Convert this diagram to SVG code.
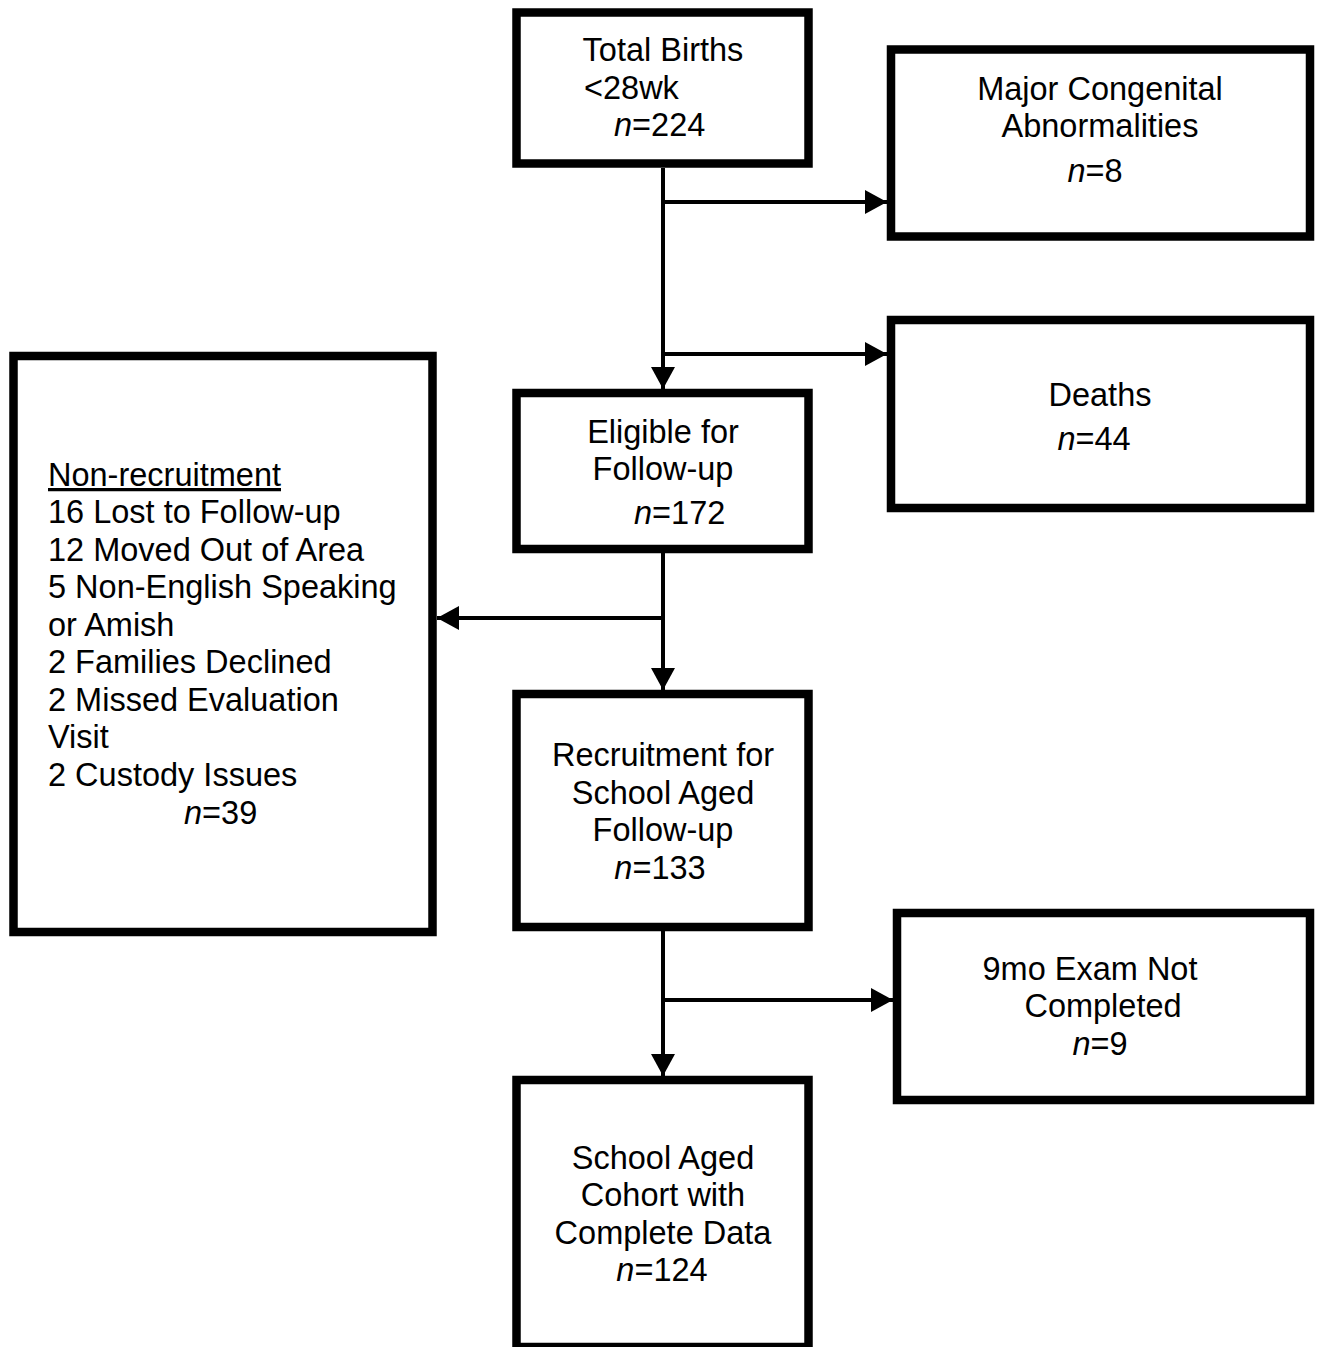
<svg xmlns="http://www.w3.org/2000/svg" width="1320" height="1347" viewBox="0 0 1320 1347">
<style>
.box{fill:#fff;stroke:#000;stroke-width:8.5}
.t{font-family:"Liberation Sans",Arial,sans-serif;font-size:32.5px;fill:#000}
.c{text-anchor:middle}
.i{font-style:italic}
.ln{stroke:#000;stroke-width:4;fill:none}
</style>
<defs>
<marker id="ah" markerWidth="22" markerHeight="24" refX="22" refY="12" orient="auto" markerUnits="userSpaceOnUse">
<path d="M0,0 L22,12 L0,24 Z" fill="#000"/>
</marker>
</defs>
<rect width="1320" height="1347" fill="#fff"/>
<g id="connectors">
<line class="ln" x1="663" y1="168" x2="663" y2="389" marker-end="url(#ah)"/>
<line class="ln" x1="663" y1="202" x2="887" y2="202" marker-end="url(#ah)"/>
<line class="ln" x1="663" y1="354" x2="887" y2="354" marker-end="url(#ah)"/>
<line class="ln" x1="663" y1="553" x2="663" y2="690" marker-end="url(#ah)"/>
<line class="ln" x1="663" y1="618" x2="437" y2="618" marker-end="url(#ah)"/>
<line class="ln" x1="663" y1="931" x2="663" y2="1076" marker-end="url(#ah)"/>
<line class="ln" x1="663" y1="1000" x2="893" y2="1000" marker-end="url(#ah)"/>
</g>
<g id="total-births">
<rect class="box" x="516.5" y="12.5" width="292" height="151"/>
<text class="t c" x="663" y="61">Total Births</text>
<text class="t" x="584" y="99">&lt;28wk</text>
<text class="t" x="614" y="136"><tspan class="i">n</tspan>=224</text>
</g>
<g id="congenital">
<rect class="box" x="891" y="49.5" width="419" height="187"/>
<text class="t c" x="1100" y="100">Major Congenital</text>
<text class="t c" x="1100" y="137">Abnormalities</text>
<text class="t c" x="1095" y="182"><tspan class="i">n</tspan>=8</text>
</g>
<g id="deaths">
<rect class="box" x="891" y="320" width="419" height="188"/>
<text class="t c" x="1100" y="406">Deaths</text>
<text class="t c" x="1094" y="450"><tspan class="i">n</tspan>=44</text>
</g>
<g id="eligible">
<rect class="box" x="516.5" y="393" width="292" height="156"/>
<text class="t c" x="663" y="443">Eligible for</text>
<text class="t c" x="663" y="480">Follow-up</text>
<text class="t" x="634" y="524"><tspan class="i">n</tspan>=172</text>
</g>
<g id="non-recruitment">
<rect class="box" x="13.5" y="356" width="419" height="576"/>
<text class="t" x="48" y="486" text-decoration="underline">Non-recruitment</text>
<text class="t" x="48" y="523">16 Lost to Follow-up</text>
<text class="t" x="48" y="561">12 Moved Out of Area</text>
<text class="t" x="48" y="598">5 Non-English Speaking</text>
<text class="t" x="48" y="636">or Amish</text>
<text class="t" x="48" y="673">2 Families Declined</text>
<text class="t" x="48" y="711">2 Missed Evaluation</text>
<text class="t" x="48" y="748">Visit</text>
<text class="t" x="48" y="786">2 Custody Issues</text>
<text class="t" x="184" y="824"><tspan class="i">n</tspan>=39</text>
</g>
<g id="recruitment">
<rect class="box" x="516.5" y="694" width="292" height="233"/>
<text class="t c" x="663" y="766">Recruitment for</text>
<text class="t c" x="663" y="804">School Aged</text>
<text class="t c" x="663" y="841">Follow-up</text>
<text class="t c" x="660" y="879"><tspan class="i">n</tspan>=133</text>
</g>
<g id="exam-not-completed">
<rect class="box" x="897" y="913" width="413" height="187"/>
<text class="t c" x="1090" y="980">9mo Exam Not</text>
<text class="t c" x="1103" y="1017">Completed</text>
<text class="t c" x="1100" y="1055"><tspan class="i">n</tspan>=9</text>
</g>
<g id="complete-cohort">
<rect class="box" x="516.5" y="1080" width="292" height="267"/>
<text class="t c" x="663" y="1169">School Aged</text>
<text class="t c" x="663" y="1206">Cohort with</text>
<text class="t c" x="663" y="1244">Complete Data</text>
<text class="t c" x="662" y="1281"><tspan class="i">n</tspan>=124</text>
</g>
</svg>
